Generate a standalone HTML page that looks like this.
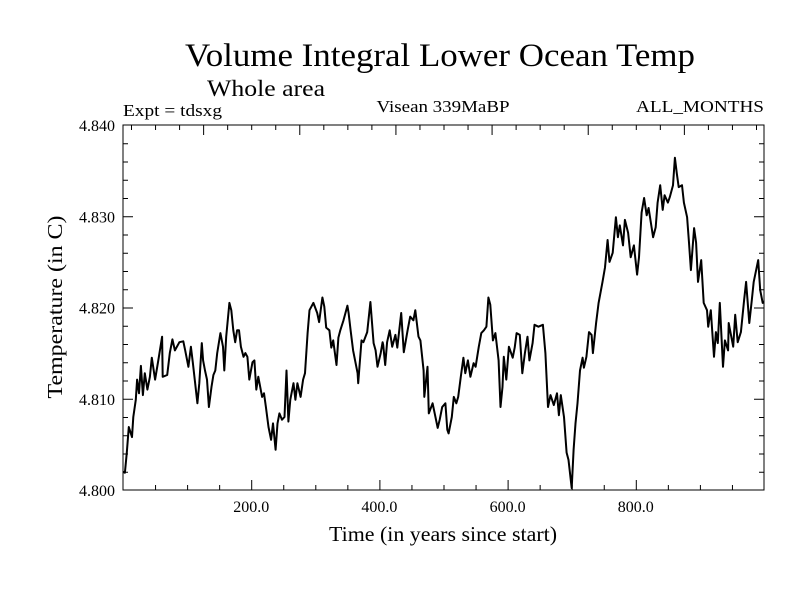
<!DOCTYPE html>
<html><head><meta charset="utf-8"><style>
body{margin:0;background:#fff;}
svg{display:block;font-family:"Liberation Serif",serif;}
</style></head><body>
<svg id="chart" width="800" height="600" viewBox="0 0 800 600" xmlns="http://www.w3.org/2000/svg">
<rect width="800" height="600" fill="#fff"/>
<text x="440" y="66" font-size="33" text-anchor="middle" textLength="510" lengthAdjust="spacingAndGlyphs">Volume Integral Lower Ocean Temp</text>
<text x="207" y="96" font-size="23" textLength="118" lengthAdjust="spacingAndGlyphs">Whole area</text>
<text x="123" y="116" font-size="17" textLength="99" lengthAdjust="spacingAndGlyphs">Expt = tdsxg</text>
<text x="443" y="112" font-size="17" text-anchor="middle" textLength="133" lengthAdjust="spacingAndGlyphs">Visean 339MaBP</text>
<text x="764" y="112" font-size="17" text-anchor="end" textLength="128" lengthAdjust="spacingAndGlyphs">ALL_MONTHS</text>
<text x="443" y="541" font-size="21" text-anchor="middle" textLength="228" lengthAdjust="spacingAndGlyphs">Time (in years since start)</text>
<text x="0" y="0" font-size="21" text-anchor="middle" transform="translate(62,307) rotate(-90)" textLength="183" lengthAdjust="spacingAndGlyphs">Temperature (in C)</text>
<g id="axes"></g>
<g id="series"></g>
<rect x="123" y="125" width="641" height="365" fill="none" stroke="#000" stroke-width="1"/>
</svg>
<script>
const years=[0,3,6,9,14,16,20,22,25,28,31,34,38,42,45,50,55,61,62,69,73,77,81,88,94,97,102,106,109,116,119,123,125,128,131,134,138,141,144,147,152,156,158,161,166,169,172,175,178,181,184,188,191,194,197,202,205,208,211,217,220,223,227,231,234,238,241,244,248,252,255,258,261,266,269,272,277,281,284,288,291,297,303,306,311,314,317,322,325,328,333,336,339,344,350,352,355,359,366,367,372,375,381,386,391,394,397,402,405,406,409,412,416,420,425,428,434,438,444,448,453,456,461,464,469,470,475,477,483,486,491,494,498,503,506,508,513,516,520,523,527,531,534,538,542,547,550,555,559,563,567,570,573,577,581,586,589,592,594,598,602,608,611,614,619,623,627,631,634,639,642,648,655,659,663,667,672,677,680,683,688,692,695,700,703,706,709,713,717,719,723,727,731,733,738,742,748,752,756,759,764,769,772,775,780,783,788,792,797,802,805,809,813,817,820,827,831,834,838,842,845,850,853,858,861,864,867,872,875,880,883,886,891,894,897,902,906,911,913,917,922,925,928,931,936,939,944,945,952,955,959,964,969,972,977,981,984,991,994,998,1000];
const temps=[4.8020,4.8019,4.8041,4.8069,4.8058,4.8080,4.8099,4.8121,4.8106,4.8136,4.8104,4.8128,4.8110,4.8124,4.8145,4.8121,4.8142,4.8168,4.8124,4.8126,4.8150,4.8165,4.8153,4.8162,4.8163,4.8153,4.8135,4.8157,4.8139,4.8095,4.8117,4.8161,4.8142,4.8131,4.8121,4.8091,4.8113,4.8126,4.8131,4.8150,4.8172,4.8157,4.8131,4.8168,4.8205,4.8197,4.8175,4.8162,4.8175,4.8175,4.8157,4.8146,4.8150,4.8146,4.8121,4.8140,4.8142,4.8110,4.8124,4.8102,4.8106,4.8091,4.8069,4.8055,4.8073,4.8044,4.8073,4.8084,4.8077,4.8080,4.8131,4.8075,4.8099,4.8117,4.8099,4.8117,4.8102,4.8121,4.8128,4.8172,4.8197,4.8205,4.8194,4.8184,4.8211,4.8201,4.8178,4.8175,4.8156,4.8164,4.8137,4.8167,4.8175,4.8186,4.8202,4.8194,4.8175,4.8153,4.8128,4.8117,4.8164,4.8162,4.8173,4.8206,4.8161,4.8153,4.8135,4.8150,4.8162,4.8159,4.8137,4.8162,4.8175,4.8157,4.8170,4.8156,4.8194,4.8151,4.8175,4.8190,4.8186,4.8197,4.8168,4.8164,4.8131,4.8102,4.8135,4.8084,4.8095,4.8085,4.8068,4.8077,4.8091,4.8095,4.8066,4.8062,4.8080,4.8102,4.8095,4.8102,4.8124,4.8145,4.8128,4.8142,4.8124,4.8139,4.8135,4.8157,4.8172,4.8175,4.8179,4.8211,4.8203,4.8164,4.8172,4.8142,4.8091,4.8113,4.8146,4.8121,4.8157,4.8145,4.8156,4.8172,4.8170,4.8128,4.8150,4.8168,4.8142,4.8161,4.8181,4.8179,4.8181,4.8150,4.8091,4.8104,4.8093,4.8106,4.8082,4.8104,4.8080,4.8041,4.8033,4.8002,4.8044,4.8073,4.8095,4.8131,4.8145,4.8134,4.8146,4.8173,4.8170,4.8150,4.8183,4.8205,4.8228,4.8244,4.8274,4.8250,4.8260,4.8299,4.8277,4.8290,4.8268,4.8296,4.8282,4.8255,4.8268,4.8236,4.8255,4.8304,4.8320,4.8301,4.8309,4.8277,4.8288,4.8315,4.8334,4.8307,4.8323,4.8315,4.8321,4.8334,4.8364,4.8347,4.8332,4.8334,4.8315,4.8299,4.8271,4.8241,4.8287,4.8271,4.8228,4.8252,4.8205,4.8197,4.8179,4.8197,4.8146,4.8173,4.8161,4.8205,4.8135,4.8164,4.8153,4.8183,4.8157,4.8192,4.8162,4.8173,4.8208,4.8228,4.8183,4.8208,4.8228,4.8252,4.8219,4.8205,4.8206];
const xTickValues=[200,400,600,800];
const xTickLabels=["200.0","400.0","600.0","800.0"];
const yTickValues=[4.800,4.810,4.820,4.830,4.840];
const yTickLabels=["4.800","4.810","4.820","4.830","4.840"];

const X0=123,X1=764,Y0=490,Y1=125,XMIN=0,XMAX=1000,YMIN=4.800,YMAX=4.840;
function xs(v){return X0+(v-XMIN)/(XMAX-XMIN)*(X1-X0);}
function ys(v){return Y0-(v-YMIN)/(YMAX-YMIN)*(Y0-Y1);}
const NS="http://www.w3.org/2000/svg";
const axes=document.getElementById('axes');
function line(x1,y1,x2,y2,name){
  const l=document.createElementNS(NS,'line');
  l.setAttribute('x1',x1);l.setAttribute('y1',y1);l.setAttribute('x2',x2);l.setAttribute('y2',y2);
  l.setAttribute('stroke','#000');l.setAttribute('stroke-width','1');
  
  
  axes.appendChild(l);
}
function text(x,y,s,anchor,name){
  const t=document.createElementNS(NS,'text');
  t.setAttribute('x',x);t.setAttribute('y',y);t.setAttribute('font-size','16');
  t.setAttribute('text-anchor',anchor);t.textContent=s;
  
  
  axes.appendChild(t);
}
// bottom ticks: minor every 50, major at 200s
for(let v=50;v<1000;v+=50){
  const maj=v%200===0, px=xs(v)+0.5;
  line(px,Y0,px,Y0-(maj?10:5),'x-tick');
}
// top ticks: majors every 150 from 125, minors every 37.5
for(let v=12.5;v<1000;v+=37.5){
  const maj=Math.abs(((v-125)%150+150)%150)<0.01, px=xs(v)+0.5;
  line(px,Y1,px,Y1+(maj?10:5),'x-top-tick');
}
// y ticks minor every 0.002
for(let i=1;i<20;i++){
  const v=YMIN+i*0.002, maj=i%5===0, py=ys(v)+0.5;
  line(X0,py,X0+(maj?10:5),py,'y-tick-left');
  line(X1,py,X1-(maj?10:5),py,'y-tick-right');
}
xTickValues.forEach((v,i)=>text(xs(v),512,xTickLabels[i],'middle','x-tick-label'));
yTickValues.forEach((v,i)=>text(115,ys(v)+6,yTickLabels[i],'end','y-tick-label'));
const series=document.getElementById('series');
const p=document.createElementNS(NS,'polyline');
p.setAttribute('points',years.map((y,i)=>xs(y).toFixed(1)+','+ys(temps[i]).toFixed(1)).join(' '));
p.setAttribute('fill','none');p.setAttribute('stroke','#000');p.setAttribute('stroke-width','2');
p.setAttribute('stroke-linejoin','round');


series.appendChild(p);
</script>
</body></html>
